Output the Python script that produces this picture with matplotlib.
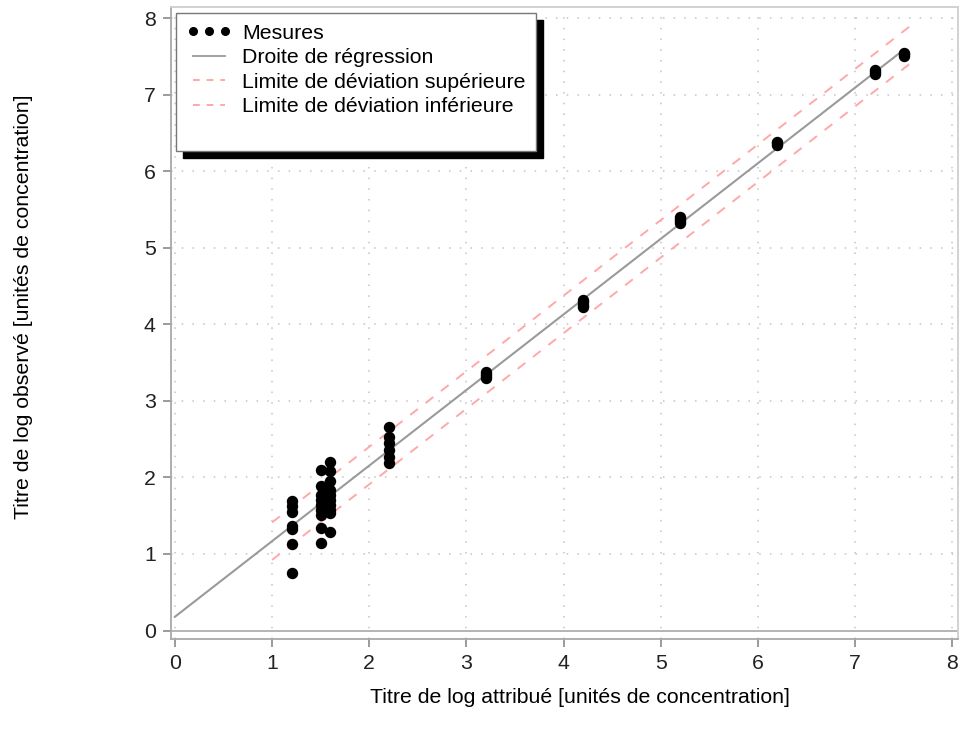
import numpy as np
import matplotlib
matplotlib.use("Agg")
import matplotlib.pyplot as plt
from matplotlib.lines import Line2D

plt.rcParams["font.family"] = ["Liberation Sans", "DejaVu Sans"]

# assigned log titre levels and the observed replicates at each level
x_levels = [1.2, 1.5, 1.6, 2.2, 3.2, 4.2, 5.2, 6.2, 7.2, 7.5]
y_obs = [
    [0.75, 1.13, 1.33, 1.37, 1.55, 1.63, 1.69],
    [1.14, 1.34, 1.51, 1.58, 1.64, 1.71, 1.77, 1.89, 2.10],
    [1.29, 1.54, 1.58, 1.64, 1.71, 1.77, 1.84, 1.95, 2.08, 2.20],
    [2.19, 2.27, 2.36, 2.45, 2.53, 2.66],
    [3.30, 3.33, 3.35, 3.38],
    [4.23, 4.26, 4.29, 4.32],
    [5.32, 5.35, 5.38, 5.40],
    [6.35, 6.37, 6.39],
    [7.28, 7.30, 7.32],
    [7.51, 7.53, 7.55],
]
reg_intercept, reg_slope = 0.18, 0.988
reg_x = [0.0, 7.5]
band_x = [1.0, 7.6]
band_half = 0.245

xs = np.concatenate([[x] * len(ys) for x, ys in zip(x_levels, y_obs)])
ys = np.concatenate(y_obs)

FS = 15.3

fig = plt.figure(figsize=(9.61, 7.43), dpi=100)
ax = fig.add_axes([0.178, 0.1406, 0.819, 0.85])

grid_kw = dict(color="#c4c4c4", lw=1.1, ls=(0, (1, 6)), zorder=0)
for v in range(0, 9):
    ax.axvline(v, **grid_kw)
for v in range(1, 9):
    ax.axhline(v, **grid_kw)
ax.axhline(0, color="#a8a8a8", lw=1.2, zorder=0)

rx = np.array(reg_x)
bx = np.array(band_x)
ax.plot(rx, reg_intercept + reg_slope * rx, color="#9a9a9a", lw=1.5, zorder=2)
ax.plot(bx, reg_intercept + reg_slope * bx + band_half, color="#ffa8a8",
        lw=1.4, ls=(0, (5, 5)), zorder=2)
ax.plot(bx, reg_intercept + reg_slope * bx - band_half, color="#ffa8a8",
        lw=1.4, ls=(0, (5, 5)), zorder=2)
ax.plot(xs, ys, "o", color="black", ms=7.2, zorder=3)

ax.set_xlim(-0.04, 8.06)
ax.set_ylim(-0.105, 8.15)
ax.set_xticks(range(0, 9))
ax.set_yticks(range(0, 9))
ax.tick_params(axis="both", direction="out", length=6, width=1.2, color="#8a8a8a",
               labelsize=FS, labelcolor="#222222", pad=5)
for side in ["left", "bottom"]:
    ax.spines[side].set_color("#a8a8a8")
    ax.spines[side].set_linewidth(1.3)
for side in ["top", "right"]:
    ax.spines[side].set_color("#cfcfcf")
    ax.spines[side].set_linewidth(1.3)

ax.set_xlabel("Titre de log attribué [unités de concentration]", fontsize=FS, va="center")
ax.set_ylabel("Titre de log observé [unités de concentration]", fontsize=FS, va="center")
ax.xaxis.set_label_coords(0.52, -0.093)
ax.yaxis.set_label_coords(-0.188, 0.525)

handles = [
    Line2D([], [], ls="none", marker="o", color="black", ms=5.5),
    Line2D([], [], color="#9a9a9a", lw=1.3),
    Line2D([], [], color="#ffa8a8", lw=1.4, ls=(0, (3.5, 3.5))),
    Line2D([], [], color="#ffa8a8", lw=1.4, ls=(0, (3.5, 3.5))),
    Line2D([], [], ls="none"),
]
labels = ["Mesures", "Droite de régression", "Limite de déviation supérieure",
          "Limite de déviation inférieure", " "]
leg = ax.legend(handles, labels, loc="upper left", bbox_to_anchor=(0.0063, 0.9905),
                borderaxespad=0, fontsize=FS, numpoints=3, handlelength=2.1,
                handletextpad=0.5, labelspacing=0.26, borderpad=0.5,
                fancybox=False, framealpha=1, edgecolor="#777777",
                shadow={"ox": 4.7, "oy": -4.7, "color": "black", "alpha": 1})
leg.get_frame().set_linewidth(1.0)
leg.set_zorder(5)

fig.savefig("out.png", dpi=100)
